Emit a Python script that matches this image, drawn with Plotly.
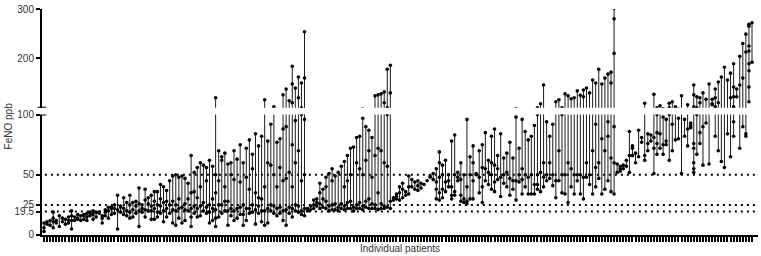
import plotly.graph_objects as go

group1 = [
    [3, 6, 10], [9, 11], [8, 12], [6, 11, 14, 19], [10, 12], [7, 16], [11, 14], [9, 13],
    [10, 12, 15], [5, 12, 16, 20], [12, 15], [13, 14, 17], [12, 16], [13, 16, 17],
    [12, 15, 18], [16, 18, 19], [13, 17, 20], [15, 19], [18, 19], [10, 14, 16],
    [16, 19, 21], [14, 20, 23], [17, 22, 23], [18, 22, 25], [5, 21, 33], [19, 23, 24],
    [17, 22, 31], [16, 20, 27], [14, 19, 25, 33], [15, 21, 27], [18, 24, 28],
    [7, 20, 26, 39], [19, 22, 25], [15, 21, 29, 38], [20, 26, 31], [13, 20, 24, 33],
    [13, 22, 28, 36], [15, 19, 25, 36], [18, 24, 30, 42], [11, 20, 27, 40],
    [15, 22, 28, 37], [18, 25, 45], [10, 21, 28, 49], [8, 20, 25, 50], [14, 22, 30, 48],
    [10, 23, 49], [12, 21, 26, 47], [20, 30, 43], [7, 15, 22, 35, 66], [18, 24, 36, 52],
    [15, 22, 31, 56], [16, 24, 40, 60], [20, 27, 58], [18, 23, 45, 56], [10, 19, 25, 62],
    [12, 22, 30, 57], [7, 14, 21, 35, 50, 120], [15, 25, 45, 70], [18, 25, 62, 65],
    [20, 28, 40, 68], [8, 20, 28, 59], [16, 22, 50, 60], [12, 20, 46, 70], [14, 22, 63],
    [17, 23, 44, 75], [8, 17, 25, 60], [12, 22, 48, 72], [18, 22, 38, 79],
    [19, 25, 55, 67], [9, 21, 35, 84], [18, 24, 31, 74], [11, 20, 30, 82],
    [8, 20, 40, 116], [10, 22, 60, 78], [20, 25, 58, 92], [18, 24, 50, 102],
    [16, 22, 40, 77], [18, 23, 56, 80], [12, 20, 45, 88, 126], [8, 21, 47, 90, 138],
    [18, 23, 52, 114], [15, 22, 40, 75, 110, 148, 184], [20, 25, 60, 95, 140],
    [19, 24, 70, 120, 162], [17, 20, 45, 100, 150], [16, 22, 50, 96, 160, 254],
]
group2 = [
    [20, 22], [21, 24], [22, 25, 29], [24, 27, 30], [22, 26, 35, 43], [23, 30, 38],
    [22, 28, 40, 48], [20, 24, 51], [21, 25, 45, 55], [21, 26, 49], [20, 23, 52],
    [22, 26, 57], [21, 24, 40, 61], [22, 27, 45, 66], [22, 28, 50, 72], [20, 23, 73],
    [22, 25, 60, 81], [22, 27, 55, 82], [21, 24, 50, 97], [23, 28, 62, 90],
    [22, 30, 70, 87], [22, 26, 48, 81], [22, 25, 66, 124], [21, 35, 72, 126],
    [22, 26, 70, 128], [22, 24, 60, 110, 132], [23, 57, 100, 178], [22, 28, 130, 186],
]
group3 = [
    [29, 31], [30, 32, 34], [29, 35, 40], [31, 38, 43], [33, 36], [34, 40, 49], [40, 46],
    [38, 44], [37, 41, 45], [39, 43], [42], [45], [48, 49], [46, 51], [30, 38, 44, 55],
    [29, 35, 48, 60, 69], [31, 38, 50, 58], [36, 44, 62], [40, 45, 50], [30, 33, 40, 78],
    [33, 36, 50, 83], [45, 48, 52], [28, 33, 46, 60], [27, 30, 50], [26, 28, 40, 96],
    [30, 50, 65], [30, 45, 60, 74], [50, 51], [35, 48, 70], [27, 40, 56, 75],
    [45, 55, 85], [42, 52, 62], [38, 50, 60, 82], [36, 44, 58, 88], [46, 55, 66],
    [32, 48, 84], [43, 50, 64], [40, 52, 68], [33, 47, 77], [38, 45, 64], [29, 45, 98],
    [44, 50, 72], [34, 46, 55, 96], [40, 50, 86], [34, 48, 79], [34, 50, 82],
    [34, 42, 91], [38, 42, 50, 100], [36, 52, 108], [40, 48, 60, 146], [45, 50, 94],
    [47, 60, 82], [41, 50, 92], [31, 45, 112], [45, 70, 116], [35, 50, 100],
    [34, 50, 128], [27, 60, 124], [40, 55, 118], [34, 50, 120], [45, 50, 134],
    [34, 50, 125], [30, 48, 122, 136], [48, 60, 140], [42, 50, 130], [34, 70, 156],
    [40, 56, 92, 150], [47, 60, 178], [34, 80, 148], [38, 70, 160], [45, 82, 94, 168],
    [36, 64, 150, 172], [34, 60, 90, 210, 280, 302],
]
group4 = [
    [52, 59], [53, 55, 57], [55, 58], [57, 62], [52, 66, 86], [66, 72, 74], [60, 68],
    [65, 87], [77, 81], [62, 66, 109], [70, 76, 84], [78, 83], [51, 72, 81, 127],
    [67, 76, 85, 100], [72, 84, 104], [67, 75, 98], [75, 78, 96], [62, 100, 109],
    [70, 92, 112], [79, 102], [80, 97], [51, 124], [82, 96], [74, 88, 106], [89, 91, 93],
    [52, 55, 60, 72, 76, 102, 126, 146], [67, 100, 122], [76, 85, 110, 120],
    [58, 90, 130], [93, 117], [59, 148], [106, 108, 117], [82, 102, 120, 138],
    [70, 110, 152], [61, 162], [56, 182], [84, 156], [65, 120, 170],
    [82, 94, 102, 122, 142, 189], [122, 138], [72, 146, 204], [90, 160, 230],
    [82, 84, 213, 249], [112, 142, 175, 189, 215, 225, 265, 269], [192, 272],
]
lower_ticks = [0, 19.5, 25, 50, 100]
lower_labels = ["0", "19.5", "25", "50", "100"]
upper_ticks = [200, 300]
upper_labels = ["200", "300"]
ref_levels = [19.5, 25, 50]

patients = group1 + group2 + group3 + group4
N = len(patients)

xs, ys = [], []
for i, vals in enumerate(patients, start=1):
    v = sorted(vals)
    xs += [i] * len(v) + [None]
    ys += v + [None]

# pixel geometry of the plot area
L, R, T, B = 42, 3, 6, 21
W, H = 761, 256
pw = W - L - R
ph = H - T - B
first_px, last_px = 44, 752
s = (last_px - first_px) / (N - 1)
x0 = 1 - (first_px - L) / s
x1 = N + (L + pw - last_px) / s

low_top = (235 - 113) / ph
up_bot = (235 - 106) / ph

fig = go.Figure()
common = dict(x=xs, y=ys, mode="lines+markers", cliponaxis=True, showlegend=False,
              line=dict(color="#1a1a1a", width=1), marker=dict(size=3.6, color="black"),
              hoverinfo="skip", connectgaps=False)
fig.add_trace(go.Scatter(yaxis="y", **common))
fig.add_trace(go.Scatter(yaxis="y2", **common))

for lv in ref_levels:
    fig.add_shape(type="line", xref="paper", yref="y", x0=0.004, x1=1, y0=lv, y1=lv,
                  line=dict(color="black", width=2, dash="2px,4px"), layer="below")

# axis break marks
for yr in ("y", "y2"):
    fig.add_shape(type="line", xref="paper", yref=yr, x0=-0.006, x1=0.006, y0=100, y1=100,
                  line=dict(color="black", width=2))

font = dict(family="Liberation Sans, Arial, sans-serif", size=10, color="#333333")
axis_common = dict(showline=True, linecolor="black", linewidth=2, ticks="outside",
                   tickcolor="black", tickwidth=2, ticklen=4, showgrid=False,
                   zeroline=False, tickfont=font)

fig.update_layout(
    width=W, height=H, margin=dict(l=L, r=R, t=T, b=B, pad=0),
    paper_bgcolor="white", plot_bgcolor="white",
    xaxis=dict(range=[x0, x1], showline=True, linecolor="black", linewidth=2,
               ticks="outside", tickcolor="black", tickwidth=2, ticklen=5,
               tickvals=list(range(1, N + 1)), showticklabels=False,
               showgrid=False, zeroline=False, anchor="y"),
    yaxis=dict(domain=[0, low_top], range=[0, 100], tickvals=lower_ticks,
               ticktext=lower_labels, anchor="x", **axis_common),
    yaxis2=dict(domain=[up_bot, 1], range=[100, 300], tickvals=upper_ticks,
                ticktext=upper_labels, anchor="x", **axis_common),
    annotations=[
        dict(text="FeNO ppb", xref="paper", yref="paper", x=(8 - L) / pw,
             y=(235 - 125) / ph, textangle=-90, showarrow=False, font=font,
             xanchor="center", yanchor="middle"),
        dict(text="Individual patients", xref="paper", yref="paper", x=0.5,
             y=(235 - 249) / ph, showarrow=False, font=font,
             xanchor="center", yanchor="middle"),
    ],
)

fig.write_html("out.html", config={"displayModeBar": False},
               post_script="document.body.style.margin='0px';document.body.style.overflow='hidden';")
